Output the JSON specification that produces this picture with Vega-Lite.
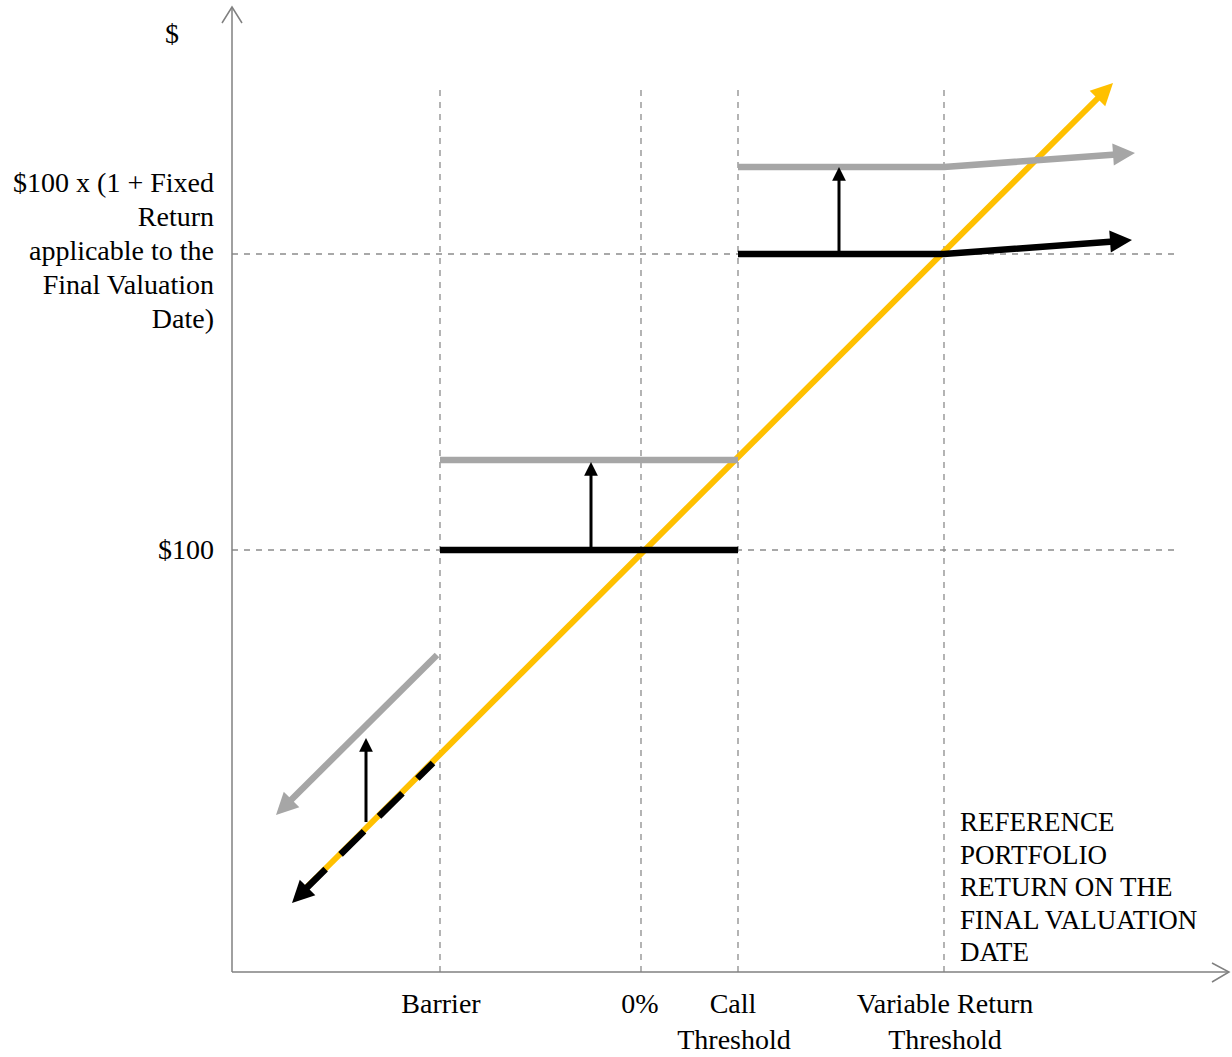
{
  "$schema": "https://vega.github.io/schema/vega-lite/v6.json",
  "width": 996,
  "height": 964,
  "autosize": "none",
  "padding": {"left": 232, "top": 8, "right": 4, "bottom": 85},
  "background": "white",
  "config": {"view": {"stroke": null}},
  "datasets": {
    "guides": [
      {"x": -40.2, "y": 192, "x2": -40.2, "y2": 15.6},
      {"x": 0, "y": 192, "x2": 0, "y2": 15.6},
      {"x": 19.4, "y": 192, "x2": 19.4, "y2": 15.6},
      {"x": 60.6, "y": 192, "x2": 60.6, "y2": 15.6},
      {"x": -81.8, "y": 159.2, "x2": 106.6, "y2": 159.2},
      {"x": -81.8, "y": 100, "x2": 106.6, "y2": 100}
    ],
    "axes": [
      {"seg": "xa", "i": 0, "x": -81.8, "y": 15.6},
      {"seg": "xa", "i": 1, "x": 117.6, "y": 15.6},
      {"seg": "xh", "i": 0, "x": 114.2, "y": 17.4},
      {"seg": "xh", "i": 1, "x": 117.6, "y": 15.6},
      {"seg": "xh", "i": 2, "x": 114.2, "y": 13.6},
      {"seg": "ya", "i": 0, "x": -81.8, "y": 15.6},
      {"seg": "ya", "i": 1, "x": -81.8, "y": 208.6},
      {"seg": "yh", "i": 0, "x": -83.8, "y": 205.4},
      {"seg": "yh", "i": 1, "x": -81.8, "y": 208.6},
      {"seg": "yh", "i": 2, "x": -79.8, "y": 205.4}
    ],
    "portfolio": [
      {"seg": "p", "i": 0, "x": -68.2, "y": 31.2},
      {"seg": "p", "i": 1, "x": 92, "y": 191}
    ],
    "payoffs": [
      {"series": "enhanced", "seg": "e1", "i": 0, "x": -40.8, "y": 79},
      {"series": "enhanced", "seg": "e1", "i": 1, "x": -70.5, "y": 49.5},
      {"series": "enhanced", "seg": "e2", "i": 0, "x": -40.2, "y": 118},
      {"series": "enhanced", "seg": "e2", "i": 1, "x": 19.4, "y": 118},
      {"series": "enhanced", "seg": "e3", "i": 0, "x": 19.4, "y": 176.6},
      {"series": "enhanced", "seg": "e3", "i": 1, "x": 60.6, "y": 176.6},
      {"series": "enhanced", "seg": "e3", "i": 2, "x": 95, "y": 179.1},
      {"series": "base", "seg": "b2", "i": 0, "x": -40.2, "y": 100},
      {"series": "base", "seg": "b2", "i": 1, "x": 19.4, "y": 100},
      {"series": "base", "seg": "b3", "i": 0, "x": 19.4, "y": 159.2},
      {"series": "base", "seg": "b3", "i": 1, "x": 60.6, "y": 159.2},
      {"series": "base", "seg": "b3", "i": 2, "x": 94.5, "y": 161.7}
    ],
    "baseDashed": [
      {"seg": "bd", "i": 0, "x": -41.6, "y": 57.4},
      {"seg": "bd", "i": 1, "x": -68, "y": 31.3}
    ],
    "uplifts": [
      {"seg": "u1", "i": 0, "x": -55, "y": 45.6},
      {"seg": "u1", "i": 1, "x": -55, "y": 60.2},
      {"seg": "u2", "i": 0, "x": -10, "y": 100},
      {"seg": "u2", "i": 1, "x": -10, "y": 115.4},
      {"seg": "u3", "i": 0, "x": 39.6, "y": 159.2},
      {"seg": "u3", "i": 1, "x": 39.6, "y": 174.2}
    ],
    "headsUpRight": [
      {"series": "portfolio", "x": 94.4, "y": 193.4}
    ],
    "headsDownLeft": [
      {"series": "enhanced", "x": -73, "y": 47},
      {"series": "base", "x": -69.8, "y": 29.4}
    ],
    "headsRight": [
      {"series": "enhanced", "x": 98.8, "y": 179.4},
      {"series": "base", "x": 98.2, "y": 162}
    ],
    "headsSmall": [
      {"x": -55, "y": 62.4},
      {"x": -10, "y": 117.6},
      {"x": 39.6, "y": 176.6}
    ],
    "labelsRight": [
      {"label": "$100 x (1 + Fixed", "x": -85.4, "y": 171.6},
      {"label": "Return", "x": -85.4, "y": 164.8},
      {"label": "applicable to the", "x": -85.4, "y": 158},
      {"label": "Final Valuation", "x": -85.4, "y": 151.2},
      {"label": "Date)", "x": -85.4, "y": 144.4},
      {"label": "$100", "x": -85.4, "y": 98.2}
    ],
    "labelsCenter": [
      {"label": "$", "x": -93.8, "y": 201.4},
      {"label": "Barrier", "x": -40, "y": 7.4},
      {"label": "0%", "x": -0.2, "y": 7.4},
      {"label": "Call", "x": 18.4, "y": 7.4},
      {"label": "Threshold", "x": 18.6, "y": 0.2},
      {"label": "Variable Return", "x": 60.8, "y": 7.4},
      {"label": "Threshold", "x": 60.8, "y": 0.2}
    ],
    "labelsLeft": [
      {"label": "REFERENCE", "x": 63.8, "y": 43.8},
      {"label": "PORTFOLIO", "x": 63.8, "y": 37.2},
      {"label": "RETURN ON THE", "x": 63.8, "y": 30.8},
      {"label": "FINAL VALUATION", "x": 63.8, "y": 24.2},
      {"label": "DATE", "x": 63.8, "y": 17.8}
    ]
  },
  "encoding": {
    "x": {"field": "x", "type": "quantitative", "scale": {"domain": [-81.8, 117.4], "nice": false, "zero": false}, "axis": null},
    "y": {"field": "y", "type": "quantitative", "scale": {"domain": [15.6, 208.4], "nice": false, "zero": false}, "axis": null}
  },
  "layer": [
    {
      "data": {"name": "guides"},
      "mark": {"type": "rule", "color": "#8c8c8c", "strokeWidth": 1.3, "strokeDash": [6, 6]},
      "encoding": {"x2": {"field": "x2"}, "y2": {"field": "y2"}}
    },
    {
      "data": {"name": "axes"},
      "mark": {"type": "line", "color": "#808080", "strokeWidth": 1.5},
      "encoding": {"detail": {"field": "seg"}, "order": {"field": "i"}}
    },
    {
      "data": {"name": "portfolio"},
      "mark": {"type": "line", "color": "#FFC000", "strokeWidth": 6},
      "encoding": {"detail": {"field": "seg"}, "order": {"field": "i"}}
    },
    {
      "data": {"name": "payoffs"},
      "mark": {"type": "line", "strokeWidth": 6.5},
      "encoding": {
        "detail": {"field": "seg"},
        "order": {"field": "i"},
        "color": {"field": "series", "type": "nominal", "scale": {"domain": ["portfolio", "enhanced", "base"], "range": ["#FFC000", "#A6A6A6", "#000000"]}, "legend": null}
      }
    },
    {
      "data": {"name": "baseDashed"},
      "mark": {"type": "line", "color": "#000000", "strokeWidth": 6.5, "strokeDash": [33, 21], "strokeDashOffset": 11},
      "encoding": {"detail": {"field": "seg"}, "order": {"field": "i"}}
    },
    {
      "data": {"name": "uplifts"},
      "mark": {"type": "line", "color": "#000000", "strokeWidth": 3},
      "encoding": {"detail": {"field": "seg"}, "order": {"field": "i"}}
    },
    {
      "data": {"name": "headsUpRight"},
      "mark": {"type": "point", "shape": "M0,0L-1,2L1,2Z", "filled": true, "opacity": 1, "size": 484, "angle": 45, "strokeWidth": 0},
      "encoding": {"color": {"field": "series", "type": "nominal", "legend": null}}
    },
    {
      "data": {"name": "headsDownLeft"},
      "mark": {"type": "point", "shape": "M0,0L-1,2L1,2Z", "filled": true, "opacity": 1, "size": 484, "angle": 225, "strokeWidth": 0},
      "encoding": {"color": {"field": "series", "type": "nominal", "legend": null}}
    },
    {
      "data": {"name": "headsRight"},
      "mark": {"type": "point", "shape": "M0,0L-1,2L1,2Z", "filled": true, "opacity": 1, "size": 484, "angle": 86, "strokeWidth": 0},
      "encoding": {"color": {"field": "series", "type": "nominal", "legend": null}}
    },
    {
      "data": {"name": "headsSmall"},
      "mark": {"type": "point", "shape": "M0,0L-1,2L1,2Z", "filled": true, "opacity": 1, "size": 190, "angle": 0, "color": "#000000", "strokeWidth": 0}
    },
    {
      "data": {"name": "labelsRight"},
      "mark": {"type": "text", "align": "right", "baseline": "alphabetic", "font": "Liberation Serif", "fontSize": 28, "color": "#000000"},
      "encoding": {"text": {"field": "label"}}
    },
    {
      "data": {"name": "labelsCenter"},
      "mark": {"type": "text", "align": "center", "baseline": "alphabetic", "font": "Liberation Serif", "fontSize": 28, "color": "#000000"},
      "encoding": {"text": {"field": "label"}}
    },
    {
      "data": {"name": "labelsLeft"},
      "mark": {"type": "text", "align": "left", "baseline": "alphabetic", "font": "Liberation Serif", "fontSize": 27, "color": "#000000"},
      "encoding": {"text": {"field": "label"}}
    }
  ]
}
